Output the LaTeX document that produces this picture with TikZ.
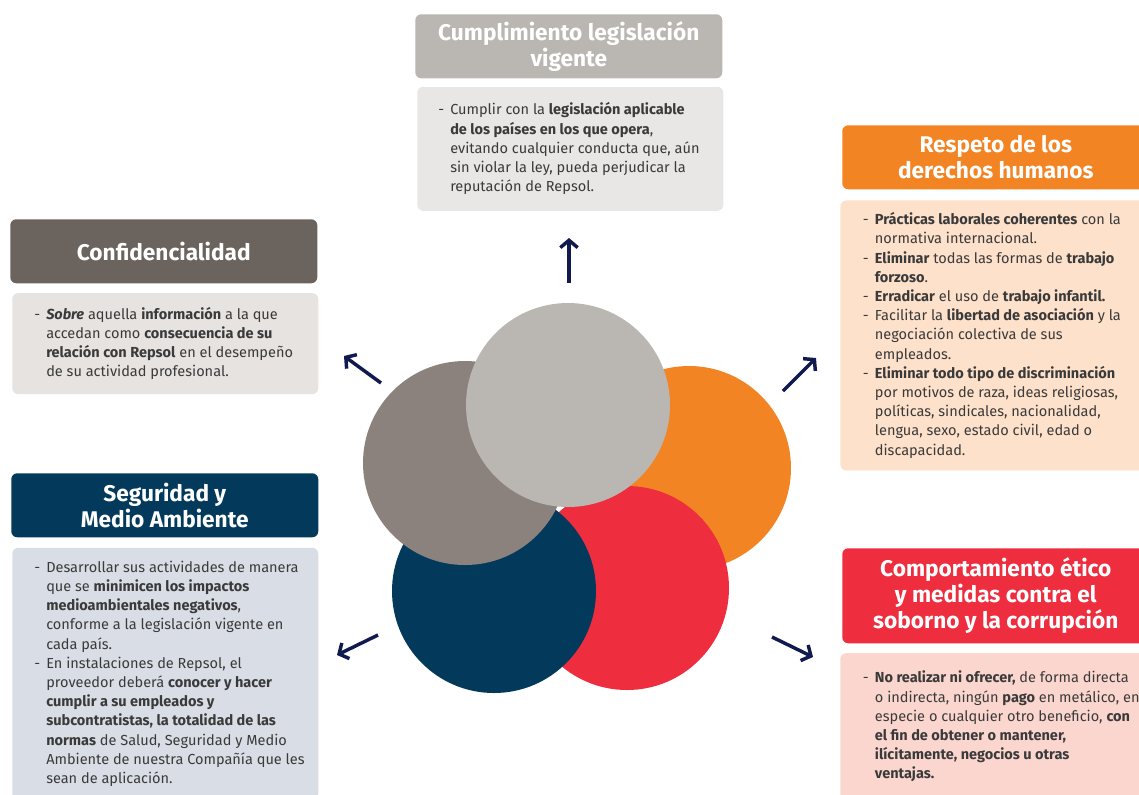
\documentclass[tikz,border=0pt]{standalone}
\usepackage{fontspec}
\setmainfont{Fira Sans}
\usepackage{xcolor}
\usetikzlibrary{arrows.meta, positioning}

\definecolor{legdark}{HTML}{BAB7B2}
\definecolor{leglight}{HTML}{E8E7E5}
\definecolor{confdark}{HTML}{6B635E}
\definecolor{confmid}{HTML}{8B827D}
\definecolor{conflight}{HTML}{E6E3E1}
\definecolor{respdark}{HTML}{F28423}
\definecolor{resplight}{HTML}{FDE1CA}
\definecolor{compdark}{HTML}{EE2D3F}
\definecolor{complight}{HTML}{FBD6CE}
\definecolor{segdark}{HTML}{033A5C}
\definecolor{seglight}{HTML}{D9DEE6}
\definecolor{arrowblue}{HTML}{101A4E}
\definecolor{textgray}{HTML}{3A3A3A}

\newcommand{\itm}{\makebox[9pt][l]{-}}
\newcommand{\ind}{\hspace*{9pt}}

\begin{document}
\begin{tikzpicture}[
    x=0.75pt, y=-0.75pt,
    titlebox/.style={rectangle, rounded corners=4.5pt, anchor=north west, minimum width=230.25pt, minimum height=48pt, align=center, text=white, font={\fontsize{17pt}{19.5pt}\selectfont\bfseries}},
    bodybox/.style={rectangle, rounded corners=4.5pt, anchor=north west, minimum width=229.5pt},
    bodytext/.style={inner sep=0pt, align=left, text=textgray, font={\fontsize{10.9pt}{14.4pt}\selectfont}},
    disc/.style={circle, minimum size=153pt, inner sep=0pt},
    arr/.style={-{Straight Barb[length=5.5pt, width=13pt]}, line width=2.6pt, draw=arrowblue}
]
\useasboundingbox (0,0) rectangle (1139,794);

% Circles
\node[disc, fill=respdark] (respcirc) at (689,468) {};
\node[disc, fill=compdark] (compcirc) at (627,588) {};
\node[disc, fill=segdark] (segcirc) at (494,591) {};
\node[disc, fill=confmid] (confcirc) at (465,463) {};
\node[disc, fill=legdark] (legcirc) at (568,405) {};

% Cumplimiento legislacion
\node[titlebox, fill=legdark] (legtitle) at (415,14) {Cumplimiento legislación\\vigente};
\node[bodybox, fill=leglight, minimum height=93pt, below=6pt of legtitle.south west, anchor=north west, xshift=1.5pt] (legbody) {};
\node[bodytext, right=15.75pt of legbody.west] (legtext) {\itm Cumplir con la \textbf{legislación aplicable}\\
\ind\textbf{de los países en los que opera},\\
\ind evitando cualquier conducta que, aún\\
\ind sin violar la ley, pueda perjudicar la\\
\ind reputación de Repsol.};

% Respeto derechos humanos
\node[titlebox, fill=respdark] (resptitle) at (842,125) {Respeto de los\\derechos humanos};
\node[bodybox, fill=resplight, minimum height=202.5pt, below=8pt of resptitle.south west, anchor=north west, xshift=-1.5pt] (respbody) {};
\node[bodytext, right=17pt of respbody.west] (resptext) {\itm\textbf{Prácticas laborales coherentes} con la\\
\ind normativa internacional.\\
\itm\textbf{Eliminar} todas las formas de \textbf{trabajo}\\
\ind\textbf{forzoso}.\\
\itm\textbf{Erradicar} el uso de \textbf{trabajo infantil.}\\
\itm Facilitar la \textbf{libertad de asociación} y la\\
\ind negociación colectiva de sus\\
\ind empleados.\\
\itm\textbf{Eliminar todo tipo de discriminación}\\
\ind por motivos de raza, ideas religiosas,\\
\ind políticas, sindicales, nacionalidad,\\
\ind lengua, sexo, estado civil, edad o\\
\ind discapacidad.};

% Confidencialidad
\node[titlebox, fill=confdark] (conftitle) at (10,219) {Confidencialidad};
\node[bodybox, fill=conflight, minimum height=75.75pt, below=7pt of conftitle.south west, anchor=north west, xshift=1.5pt] (confbody) {};
\node[bodytext, right=16.5pt of confbody.west] (conftext) {\itm\textbf{\itshape Sobre} aquella \textbf{información} a la que\\
\ind accedan como \textbf{consecuencia de su}\\
\ind\textbf{relación con Repsol} en el desempeño\\
\ind de su actividad profesional.};

% Seguridad y Medio Ambiente
\node[titlebox, fill=segdark] (segtitle) at (11,473) {Seguridad y\\Medio Ambiente};
\node[bodybox, fill=seglight, minimum height=189pt, below=7.5pt of segtitle.south west, anchor=north west, xshift=0.75pt] (segbody) {};
\node[bodytext, right=16.5pt of segbody.west] (segtext) {\itm Desarrollar sus actividades de manera\\
\ind que se \textbf{minimicen los impactos}\\
\ind\textbf{medioambientales negativos},\\
\ind conforme a la legislación vigente en\\
\ind cada país.\\
\itm En instalaciones de Repsol, el\\
\ind proveedor deberá \textbf{conocer y hacer}\\
\ind\textbf{cumplir a su empleados y}\\
\ind\textbf{subcontratistas, la totalidad de las}\\
\ind\textbf{normas} de Salud, Seguridad y Medio\\
\ind Ambiente de nuestra Compañía que les\\
\ind sean de aplicación.};

% Comportamiento etico
\node[titlebox, fill=compdark, minimum height=71.25pt] (comptitle) at (842,548) {Comportamiento ético\\y medidas contra el\\soborno y la corrupción};
\node[bodybox, fill=complight, minimum height=110.25pt, below=7pt of comptitle.south west, anchor=north west, xshift=-1.5pt] (compbody) {};
\node[bodytext, right=17pt of compbody.west] (comptext) {\itm\textbf{No realizar ni ofrecer,} de forma directa\\
\ind o indirecta, ningún \textbf{pago} en metálico, en\\
\ind especie o cualquier otro beneficio, \textbf{con}\\
\ind\textbf{el fin de obtener o mantener,}\\
\ind\textbf{ilícitamente, negocios u otras}\\
\ind\textbf{ventajas.}};

% Arrows
\coordinate (legA) at (569,283);  \coordinate (legB) at (569,238);
\coordinate (confA) at (381,383); \coordinate (confB) at (344,356);
\coordinate (respA) at (783,391); \coordinate (respB) at (816,358);
\coordinate (segA) at (378,635);  \coordinate (segB) at (337,655);
\coordinate (compA) at (772,637); \coordinate (compB) at (813,657);
\draw[arr] (legA) -- (legB);
\draw[arr] (confA) -- (confB);
\draw[arr] (respA) -- (respB);
\draw[arr] (segA) -- (segB);
\draw[arr] (compA) -- (compB);

\end{tikzpicture}
\end{document}
